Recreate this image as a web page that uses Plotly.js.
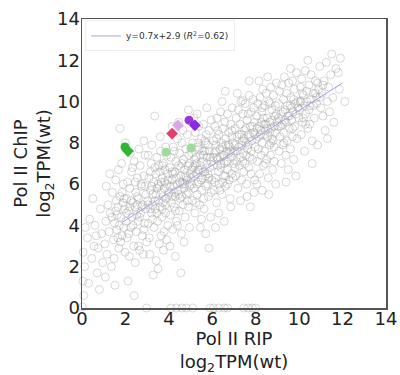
<!DOCTYPE html>
<html><head><meta charset="utf-8">
<script src="https://cdn.plot.ly/plotly-3.0.1.min.js"></script>
<style>html,body{margin:0;padding:0;background:#fff;}#chart{width:400px;height:375px;}</style>
</head><body><div id="chart"></div>
<script>
// Background genes: Pol II RIP (x) vs Pol II ChIP (y), log2 TPM (wt)
const genePts = [
 [0.02,0.05],[0.08,0.6],[0.04,1.3],[0.12,2.0],[0.06,2.7],[0.25,3.4],[0.3,1.2],[0.45,2.4],[0.55,3.0],[0.35,4.3],[0.6,4.0],[0.7,1.7],[0.8,0.9],[0.75,2.9],[0.9,3.6],[0.85,4.8],[0.95,2.2],[0.5,5.3],[0.65,3.5],[0.15,3.9],
 [1.05,3.1],[1.1,4.2],[1.15,2.6],[1.2,5.0],[1.25,3.7],[1.3,4.6],[1.35,2.0],[1.4,5.6],[1.45,3.3],[1.5,4.1],[1.55,6.2],[1.6,3.8],[1.65,4.9],[1.7,2.9],[1.75,5.4],[1.8,4.4],[1.85,3.5],[1.9,6.0],[1.95,4.8],[1.12,5.9],[1.28,6.5],[1.48,2.4],[1.58,5.2],[1.68,6.7],[1.78,3.2],[1.88,5.1],[1.98,2.7],[1.38,4.4],[1.62,4.5],[1.72,4.0],[1.82,7.0],[1.92,3.9],[1.75,8.7],[1.08,1.5],[1.52,1.1],
 [2.02,4.2],[2.05,5.3],[2.08,3.4],[2.1,6.1],[2.15,4.7],[2.18,2.5],[2.2,5.8],[2.25,3.9],[2.28,6.6],[2.3,4.4],[2.35,5.1],[2.38,3.0],[2.4,7.1],[2.45,4.9],[2.48,5.6],[2.5,3.7],[2.55,6.3],[2.58,4.2],[2.6,5.3],[2.65,2.8],[2.68,6.9],[2.7,4.6],[2.75,5.9],[2.78,3.5],[2.8,5.0],[2.85,6.4],[2.88,4.1],[2.9,7.4],[2.95,5.5],[2.98,3.2],[2.12,1.3],[2.4,0.6],[2.22,7.5],[2.62,7.7],[2.85,8.1],[2.0,8.0],[2.52,4.5],[2.33,6.8],[2.72,6.0],[2.92,4.8],[2.15,3.6],[2.45,2.2],[2.82,2.6],[2.6,3.0],[2.98,0.0],
 [3.02,5.2],[3.05,4.1],[3.08,6.3],[3.1,3.4],[3.15,5.7],[3.18,7.0],[3.2,4.6],[3.22,7.9],[3.25,5.0],[3.3,6.1],[3.32,3.9],[3.35,6.8],[3.38,4.8],[3.4,5.5],[3.45,7.3],[3.48,4.2],[3.5,6.0],[3.52,5.2],[3.55,3.1],[3.58,6.6],[3.6,4.9],[3.62,7.6],[3.65,5.6],[3.68,4.4],[3.7,6.3],[3.72,5.1],[3.75,7.0],[3.78,3.7],[3.8,5.8],[3.82,6.7],[3.85,4.6],[3.88,5.3],[3.9,7.4],[3.92,6.0],[3.95,4.0],[3.98,5.5],[3.12,2.6],[3.42,2.3],[3.35,9.3],[3.6,8.3],[3.28,1.6],[3.75,2.8],[3.15,6.6],[3.45,5.8],[3.55,6.9],[3.65,3.5],[3.85,7.8],[3.05,7.4],[3.25,4.3],[3.7,4.8],[3.9,3.3],[3.5,1.9],[3.95,6.5],[3.2,5.9],[3.8,6.1],
 [4.02,5.6],[4.05,6.8],[4.08,4.5],[4.1,7.3],[4.12,5.1],[4.15,6.2],[4.18,3.8],[4.2,7.8],[4.22,5.9],[4.25,4.9],[4.28,6.6],[4.3,5.4],[4.32,7.1],[4.35,4.2],[4.38,6.0],[4.4,8.2],[4.42,5.7],[4.45,6.9],[4.48,4.7],[4.5,7.5],[4.52,5.3],[4.55,6.4],[4.58,3.6],[4.6,8.0],[4.62,6.1],[4.65,5.0],[4.68,7.2],[4.7,5.8],[4.72,6.7],[4.75,4.4],[4.78,7.7],[4.8,6.3],[4.82,5.5],[4.85,8.4],[4.88,6.9],[4.9,4.9],[4.92,7.4],[4.95,5.9],[4.98,6.5],[4.05,3.0],[4.3,2.5],[4.55,1.7],[4.1,0.0],[4.35,0.0],[4.6,0.0],[4.8,0.0],[4.9,9.6],[4.15,8.8],[4.45,9.0],[4.7,3.2],[4.25,7.6],[4.65,8.6],[4.95,3.9],[4.4,4.0],[4.85,5.2],[4.15,5.4],[4.5,6.1],[4.75,6.0],[4.2,6.5],[4.6,7.0],
 [5.02,6.3],[5.05,7.5],[5.08,5.2],[5.1,8.0],[5.12,6.8],[5.15,5.8],[5.18,7.2],[5.2,4.6],[5.22,8.5],[5.25,6.5],[5.28,7.0],[5.3,5.5],[5.32,7.8],[5.35,6.1],[5.38,8.8],[5.4,6.7],[5.42,5.0],[5.45,7.4],[5.48,6.2],[5.5,8.2],[5.52,5.7],[5.55,7.1],[5.58,6.6],[5.6,8.9],[5.62,4.8],[5.65,7.6],[5.68,6.4],[5.7,5.9],[5.72,8.4],[5.75,7.0],[5.78,6.0],[5.8,7.9],[5.82,5.4],[5.85,8.6],[5.88,6.8],[5.9,7.3],[5.92,4.4],[5.95,9.1],[5.98,6.2],[5.75,9.7],[5.3,9.4],[5.45,3.9],[5.7,3.6],[5.9,0.0],[5.1,0.0],[5.85,2.9],[5.15,9.2],[5.6,5.3],[5.25,5.1],[5.5,4.3],[5.05,6.0],[5.35,8.0],[5.65,8.1],[5.95,5.6],[5.4,7.7],[5.8,6.5],[5.55,6.3],[5.2,6.9],[5.85,7.6],[5.6,7.4],
 [6.02,6.9],[6.05,8.1],[6.08,5.7],[6.1,7.5],[6.12,8.8],[6.15,6.3],[6.18,7.9],[6.2,5.1],[6.22,9.2],[6.25,7.2],[6.28,6.6],[6.3,8.4],[6.32,6.0],[6.35,7.7],[6.38,9.5],[6.4,6.8],[6.42,8.0],[6.45,5.5],[6.48,7.4],[6.5,8.7],[6.52,6.4],[6.55,7.0],[6.58,9.0],[6.6,5.9],[6.62,8.2],[6.65,7.6],[6.68,6.7],[6.7,9.4],[6.72,7.1],[6.75,8.5],[6.78,6.2],[6.8,7.8],[6.82,5.3],[6.85,8.9],[6.88,7.3],[6.9,6.5],[6.92,9.7],[6.95,8.0],[6.98,7.0],[6.6,10.5],[6.3,4.6],[6.55,4.2],[6.85,4.9],[6.05,0.0],[6.3,0.0],[6.55,0.0],[6.7,0.0],[6.15,3.9],[6.45,10.0],[6.25,8.6],[6.4,7.0],[6.7,6.0],[6.9,8.3],[6.1,6.1],[6.5,6.1],[6.35,5.7],[6.75,7.5],[6.2,7.3],[6.62,7.9],[6.95,6.3],
 [7.02,7.6],[7.05,8.7],[7.08,6.4],[7.1,9.2],[7.12,7.1],[7.15,8.3],[7.18,5.8],[7.2,9.6],[7.22,7.8],[7.25,6.9],[7.28,8.9],[7.3,7.3],[7.32,10.0],[7.35,6.2],[7.38,8.1],[7.4,9.4],[7.42,7.5],[7.45,6.6],[7.48,8.6],[7.5,7.0],[7.52,9.9],[7.55,8.0],[7.58,6.0],[7.6,9.1],[7.62,7.7],[7.65,8.4],[7.68,6.8],[7.7,10.3],[7.72,7.3],[7.75,8.8],[7.78,6.5],[7.8,9.5],[7.82,8.1],[7.85,7.2],[7.88,10.1],[7.9,8.5],[7.92,5.6],[7.95,9.0],[7.98,7.8],[7.7,11.0],[7.4,10.05],[7.3,5.2],[7.75,4.9],[7.45,0.0],[7.65,0.0],[7.85,0.0],[8.0,0.0],[7.6,5.4],[7.15,10.4],[7.95,6.2],[7.35,8.4],[7.55,7.4],[7.9,9.7],[7.05,6.8],[7.65,9.4],
 [8.02,8.2],[8.05,9.3],[8.08,7.1],[8.1,9.9],[8.12,7.7],[8.15,8.8],[8.18,6.5],[8.2,10.2],[8.22,8.4],[8.25,7.4],[8.28,9.5],[8.3,8.0],[8.32,10.6],[8.35,6.9],[8.38,8.9],[8.4,9.8],[8.42,7.6],[8.45,8.6],[8.48,10.4],[8.5,7.2],[8.52,9.2],[8.55,8.3],[8.58,6.3],[8.6,10.0],[8.62,7.9],[8.65,9.0],[8.68,7.4],[8.7,10.7],[8.72,8.7],[8.75,9.6],[8.78,6.7],[8.8,8.1],[8.82,10.3],[8.85,7.8],[8.88,9.3],[8.9,8.5],[8.92,6.0],[8.95,10.9],[8.98,9.0],[8.3,5.7],[8.6,5.5],[8.15,11.0],[8.45,7.0],[8.75,8.2],[8.05,6.0],[8.55,11.2],[8.4,8.4],[8.85,7.1],[8.25,9.0],[8.65,9.9],
 [9.02,8.8],[9.05,9.9],[9.08,7.6],[9.1,10.5],[9.12,8.3],[9.15,9.4],[9.18,7.0],[9.2,10.8],[9.22,8.9],[9.25,7.9],[9.28,10.1],[9.3,8.5],[9.32,11.2],[9.35,9.6],[9.38,7.4],[9.4,9.0],[9.42,10.4],[9.45,8.1],[9.48,9.3],[9.5,6.7],[9.52,10.9],[9.55,8.7],[9.58,9.8],[9.6,7.7],[9.62,10.2],[9.65,9.1],[9.68,8.3],[9.7,11.0],[9.72,9.5],[9.75,7.2],[9.78,10.6],[9.8,8.8],[9.82,9.9],[9.85,6.4],[9.88,11.4],[9.9,8.2],[9.95,10.0],[9.98,9.2],[9.4,6.1],[9.6,11.6],
 [10.02,9.6],[10.05,10.7],[10.1,8.4],[10.12,11.1],[10.15,9.0],[10.2,10.3],[10.25,7.6],[10.28,11.5],[10.3,9.4],[10.35,10.0],[10.4,8.7],[10.45,10.8],[10.5,9.8],[10.55,11.3],[10.6,8.1],[10.65,10.4],[10.7,9.2],[10.75,11.0],[10.8,9.9],[10.85,7.9],[10.9,10.6],[10.95,11.7],[10.4,12.0],[10.6,7.0],[10.2,9.2],[10.8,10.2],[10.5,8.9],[10.1,10.0],
 [11.05,10.4],[11.1,9.3],[11.15,11.0],[11.2,8.6],[11.25,11.9],[11.3,10.0],[11.35,10.7],[11.4,9.5],[11.45,11.3],[11.5,12.3],[11.55,10.2],[11.6,9.0],[11.7,11.6],[11.8,11.4],[11.85,10.6],[12.1,10.0],[11.9,12.1],[11.3,8.2],
 [1.55,4.7],[1.65,3.4],[1.85,5.6],[2.05,4.6],[2.25,5.2],[2.35,4.0],[2.55,5.0],[2.65,4.4],[2.75,4.9],[2.9,5.9],[2.45,6.1],[2.2,4.9],[1.95,5.3],[2.85,3.8],[2.55,5.4],
 [3.05,5.0],[3.15,4.8],[3.25,5.5],[3.35,5.2],[3.45,4.6],[3.55,5.9],[3.65,6.1],[3.75,5.4],[3.85,5.0],[3.95,6.2],[4.05,5.9],[4.15,6.6],[4.25,5.6],[4.35,6.3],[4.45,5.5],[4.55,6.8],[4.65,6.0],[4.75,6.4],[4.85,6.2],[4.95,7.0],[3.4,6.5],[3.7,6.9],[4.3,4.7],[4.6,5.4],[4.9,5.6],
 [5.05,6.7],[5.15,6.4],[5.25,7.3],[5.35,6.7],[5.45,6.9],[5.55,7.6],[5.65,6.6],[5.75,7.3],[5.85,6.3],[5.95,7.1],[6.05,7.3],[6.15,7.6],[6.25,6.9],[6.35,7.3],[6.45,7.8],[6.55,7.4],[6.65,7.1],[6.75,7.9],[6.85,7.6],[6.95,7.5],[5.3,6.0],[5.7,8.0],[6.2,8.2],[6.6,6.4],[6.9,8.6],
 [7.05,7.9],[7.15,7.6],[7.25,8.4],[7.35,7.9],[7.45,8.2],[7.55,8.7],[7.65,7.9],[7.75,8.3],[7.85,8.8],[7.95,8.4],[8.05,8.7],[8.15,8.3],[8.25,8.6],[8.35,9.2],[8.45,8.9],[8.55,8.7],[8.65,8.5],[8.75,9.1],[8.85,8.8],[8.95,9.4],[7.4,7.1],[7.8,7.6],[8.3,9.7],[8.7,8.0],[8.9,9.8],
 [9.05,9.2],[9.15,8.8],[9.25,9.5],[9.35,9.1],[9.45,9.8],[9.55,9.3],[9.65,9.7],[9.75,10.1],[9.85,9.4],[9.95,9.7],[10.05,10.0],[10.15,10.4],[10.25,9.8],[10.35,10.5],[10.45,9.6],[10.55,10.1],[10.65,9.8],[10.75,10.4],[10.85,10.9],[10.95,10.2],[9.3,8.0],[9.7,8.7],[10.3,8.9],[11.0,9.7],[11.1,10.8]
];
const geneX = genePts.map(p => p[0]);
const geneY = genePts.map(p => p[1]);

// Highlighted genes
const hiX = [1.98, 2.12, 4.15, 4.42, 4.93, 5.2, 3.87, 5.02];
const hiY = [7.8, 7.6, 8.45, 8.85, 9.1, 8.85, 7.55, 7.75];
const hiColor = ['#2fb52f', '#2fb52f', '#e0406a', '#dda6ea', '#9b35d6', '#8a2be2', '#9ddc9d', '#9ddc9d'];
const hiSymbol = ['circle', 'diamond', 'diamond', 'diamond', 'circle', 'diamond', 'circle', 'circle'];

// Regression line endpoints
const fitX = [1.85, 12.0];
const fitY = [4.15, 10.9];
const fitLabel = 'y=0.7x+2.9 (<i>R</i><sup>2</sup>=0.62)';

const xTicks = [0, 2, 4, 6, 8, 10, 12, 14];
const yTicks = [0, 2, 4, 6, 8, 10, 12, 14];

const traces = [
  {x: geneX, y: geneY, type: 'scatter', mode: 'markers', showlegend: false, cliponaxis: false,
   marker: {symbol: 'circle-open', size: 8, color: 'rgba(145,145,145,0.6)', line: {width: 0.6}}},
  {x: fitX, y: fitY, type: 'scatter', mode: 'lines', name: fitLabel,
   line: {color: '#a7a3ee', width: 1}},
  {x: hiX, y: hiY, type: 'scatter', mode: 'markers', showlegend: false,
   marker: {symbol: hiSymbol, size: 9, color: hiColor, line: {width: 0}}}
];

const font = {family: 'DejaVu Sans, sans-serif', color: '#222'};
const layout = {
  width: 400, height: 375,
  margin: {l: 82, r: 14, t: 19, b: 67},
  paper_bgcolor: '#fff', plot_bgcolor: '#fff',
  font: font,
  showlegend: true,
  legend: {x: 0.01, y: 0.995, xanchor: 'left', yanchor: 'top', bgcolor: 'rgba(255,255,255,0.9)',
           bordercolor: '#eeeeee', borderwidth: 1, font: {size: 9, color: '#333', family: 'DejaVu Sans'},
           itemwidth: 30, tracegroupgap: 0},
  xaxis: {range: [0, 14], tickvals: xTicks, ticktext: xTicks.map(String), showgrid: false, zeroline: false,
          showline: true, mirror: true, linecolor: '#555', linewidth: 1.5, ticks: '',
          ticklabelstandoff: -6, automargin: false,
          tickfont: {size: 18, color: '#222'},
          title: {text: 'Pol II RIP<br>log<sub>2</sub>TPM(wt)', font: {size: 18, color: '#222'}, standoff: 14}},
  yaxis: {range: [0, 14], tickvals: yTicks, ticktext: yTicks.map(String), showgrid: false, zeroline: false,
          showline: true, mirror: true, linecolor: '#555', linewidth: 1.5, ticks: '',
          ticklabelstandoff: -3, automargin: false,
          tickfont: {size: 18, color: '#222'},
          title: {text: 'Pol II ChIP<br>log<sub>2</sub>TPM(wt)', font: {size: 18, color: '#222'}, standoff: 0}},
  annotations: [{text: 'Pol II RIP vs. ChIP occupancy', xref: 'paper', yref: 'paper', x: 0.55, y: 1.062,
                 xanchor: 'center', yanchor: 'bottom', showarrow: false, font: {size: 17, color: '#777'}}]
};
Plotly.newPlot('chart', traces, layout, {displayModeBar: false, staticPlot: true});
</script></body></html>
